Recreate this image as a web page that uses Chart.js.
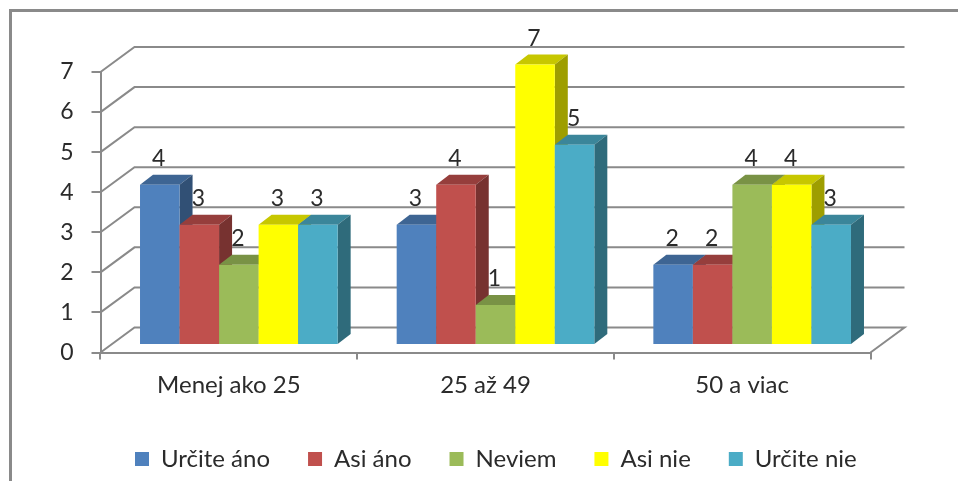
<!DOCTYPE html>
<html>
<head>
<meta charset="utf-8">
<title>Graf</title>
<script src="https://cdn.jsdelivr.net/npm/chart.js@4/dist/chart.umd.min.js"></script>
<style>
  html, body { margin: 0; padding: 0; background: #fff; overflow: hidden; }
  #frame { position: absolute; left: 9px; top: 9px; width: 960px; height: 480px;
           border-left: 3px solid #8a8a8a; border-top: 3px solid #8a8a8a; }
  canvas { position: absolute; left: 0; top: 0; filter: blur(0.35px); }
</style>
</head>
<body>
<div id="frame"></div>
<canvas id="myChart" width="958" height="481"></canvas>
<script>
const categories = ['Menej ako 25', '25 až 49', '50 a viac']
const urciteAno = [4, 3, 2]
const asiAno = [3, 4, 2]
const neviem = [2, 1, 4]
const asiNie = [3, 7, 4]
const urciteNie = [3, 5, 3]

const fontName = 'Lato, "Open Sans", sans-serif'
const lineColor = '#8a8a8a'
const textColor = '#2b2b2b'

// how far the back wall sits from the front plane
const wallX = 34, wallY = -25
// bars stand a bit behind the front plane, and have their own depth
const barShiftX = 10, barShiftY = -7.5
const depthX = 13, depthY = -10

function shade(hex, f) {
  const n = parseInt(hex.slice(1), 16)
  const r = Math.round((n >> 16 & 255) * f)
  const g = Math.round((n >> 8 & 255) * f)
  const b = Math.round((n & 255) * f)
  return `rgb(${r},${g},${b})`
}

function poly(ctx, pts, color) {
  ctx.fillStyle = color
  ctx.beginPath()
  pts.forEach((p, i) => i ? ctx.lineTo(p[0], p[1]) : ctx.moveTo(p[0], p[1]))
  ctx.closePath()
  ctx.fill()
}

const bars3d = {
  id: 'bars3d',
  afterLayout(chart) {
    // legend row sits off centre in the original
    chart.legend.left = 97
    chart.legend.right = 958
  },
  beforeDatasetsDraw(chart) {
    const ctx = chart.ctx
    const yScale = chart.scales.y
    const area = chart.chartArea

    // back wall lines + floor
    ctx.save()
    ctx.strokeStyle = lineColor
    ctx.lineWidth = 2
    yScale.ticks.forEach(t => {
      const py = yScale.getPixelForValue(t.value)
      ctx.beginPath()
      ctx.moveTo(area.left, py)
      ctx.lineTo(area.left + wallX, py + wallY)
      ctx.lineTo(area.right + wallX, py + wallY)
      if (t.value === 0) ctx.lineTo(area.right, py)
      ctx.stroke()
    })
    ctx.restore()

    // left to right, so the next bar covers the side of the previous one
    ctx.save()
    ctx.translate(barShiftX, barShiftY)
    chart.data.datasets.forEach((ds, i) => {
      const meta = chart.getDatasetMeta(i)
      meta.data.forEach((bar, j) => {
        const p = bar.getProps(['x', 'y', 'base', 'width'], true)
        const l = p.x - p.width / 2, r = p.x + p.width / 2
        poly(ctx, [[l, p.y], [l + depthX, p.y + depthY], [r + depthX, p.y + depthY], [r, p.y]], shade(ds.backgroundColor, 0.78))
        poly(ctx, [[r, p.y], [r + depthX, p.y + depthY], [r + depthX, p.base + depthY], [r, p.base]], shade(ds.backgroundColor, 0.62))
        bar.draw(ctx)
      })
    })

    // value labels on top of everything
    ctx.fillStyle = textColor
    ctx.font = '23px ' + fontName
    ctx.textAlign = 'center'
    ctx.textBaseline = 'middle'
    chart.data.datasets.forEach((ds, i) => {
      chart.getDatasetMeta(i).data.forEach((bar, j) => {
        const p = bar.getProps(['x', 'y'], true)
        ctx.fillText(ds.data[j], p.x - 1, p.y - 26)
      })
    })
    ctx.restore()
    return false
  }
}

new Chart(document.getElementById('myChart').getContext('2d'), {
  type: 'bar',
  data: {
    labels: categories,
    datasets: [
      { label: 'Určite áno', data: urciteAno, backgroundColor: '#4F81BD' },
      { label: 'Asi áno', data: asiAno, backgroundColor: '#C0504D' },
      { label: 'Neviem', data: neviem, backgroundColor: '#9BBB59' },
      { label: 'Asi nie', data: asiNie, backgroundColor: '#FFFF00' },
      { label: 'Určite nie', data: urciteNie, backgroundColor: '#4BACC6' }
    ]
  },
  plugins: [bars3d],
  options: {
    responsive: false,
    animation: false,
    devicePixelRatio: 1,
    categoryPercentage: 0.77,
    barPercentage: 1,
    layout: { padding: { left: 0, right: 87.5, top: 72, bottom: 0 } },
    scales: {
      x: {
        afterFit: s => { s.height = 56.5 },
        grid: { drawOnChartArea: false, drawTicks: true, tickLength: 7, color: lineColor, lineWidth: 2 },
        border: { color: lineColor, width: 2 },
        ticks: { color: textColor, font: { family: fontName, size: 24 }, padding: 11, maxRotation: 0 }
      },
      y: {
        min: 0,
        max: 7,
        afterFit: s => { s.width = 100.5 },
        grid: { drawOnChartArea: false, drawTicks: true, tickLength: 9, color: lineColor, lineWidth: 2 },
        border: { color: lineColor, width: 2 },
        ticks: { stepSize: 1, color: textColor, font: { family: fontName, size: 23 }, padding: 18 }
      }
    },
    plugins: {
      title: { display: false },
      tooltip: { enabled: false },
      legend: {
        display: true,
        position: 'bottom',
        align: 'start',
        labels: { color: textColor, font: { family: fontName, size: 24 }, boxWidth: 14, boxHeight: 14, padding: 38 }
      }
    }
  }
})
</script>
</body>
</html>
